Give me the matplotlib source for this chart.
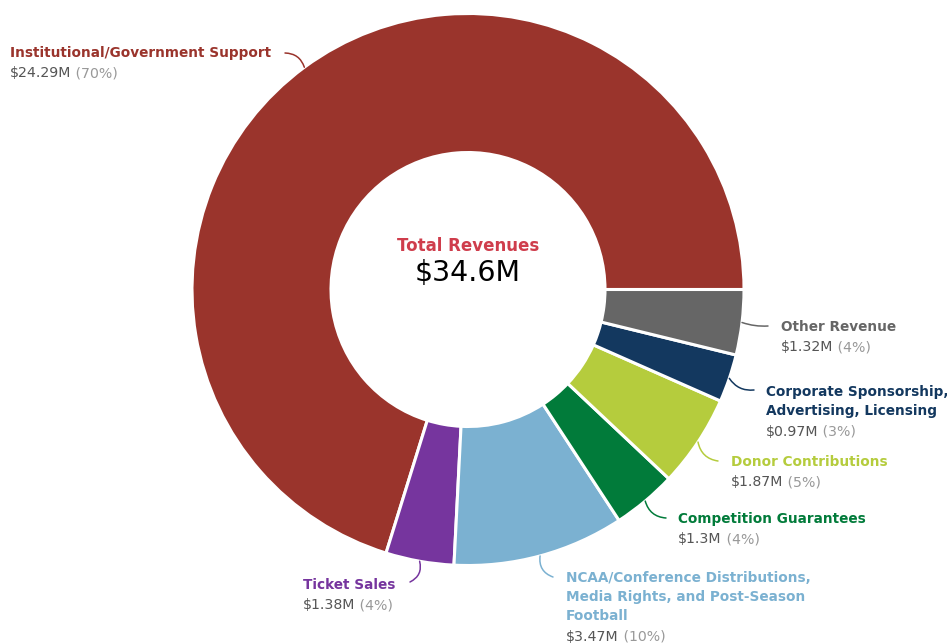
import numpy as np
import matplotlib.pyplot as plt

# revenue sources, in millions of dollars
categories = ["Institutional/Government Support", "Ticket Sales",
              "NCAA/Conference Distributions,\nMedia Rights, and Post-Season\nFootball",
              "Competition Guarantees", "Donor Contributions",
              "Corporate Sponsorship,\nAdvertising, Licensing", "Other Revenue"]
values = [24.29, 1.38, 3.47, 1.3, 1.87, 0.97, 1.32]
value_labels = ["$24.29M", "$1.38M", "$3.47M", "$1.3M", "$1.87M", "$0.97M", "$1.32M"]

colors = ["#9a342c", "#76359e", "#7bb1d1", "#017b3a", "#b5cc3d", "#13385f", "#666666"]

W, H = 947, 644
cx, cy, r_out, r_in = 468, 289.5, 276, 137

# label layout: left x, centre y of first line, leader end point, leader bend (px, y down)
label_pos = [(10, 54, (285, 53), -0.35), (303, 586, (410, 582), 0.4),
             (566, 579, (553, 577), -0.4), (678, 520, (666, 518), -0.35),
             (731, 463, (718, 461), -0.35), (766, 393, (754, 390), -0.3),
             (781, 328, (768, 326), -0.1)]
line_h = 19.3


def fy(y):
    return H - y


fig = plt.figure(figsize=(W / 100, H / 100), dpi=100)
ax = fig.add_axes([0, 0, 1, 1])

wedges, _ = ax.pie(values, colors=colors, startangle=0, counterclock=True,
                   radius=r_out, center=(cx, fy(cy)),
                   wedgeprops=dict(width=r_out - r_in, edgecolor="white", linewidth=2.2))
ax.set_xlim(0, W)
ax.set_ylim(0, H)
ax.set_aspect("auto")
ax.axis("off")

total = sum(values)
ax.text(cx, fy(246), "Total Revenues", color="#cf3d4c", fontsize=12, fontweight="bold",
        ha="center", va="center")
ax.text(cx, fy(273), "$%.1fM" % total, color="black", fontsize=20.5,
        ha="center", va="center")

for w, name, val, col, (lx, ly, end, bend) in zip(wedges, categories, value_labels,
                                                  colors, label_pos):
    mid = np.deg2rad((w.theta1 + w.theta2) / 2)
    anchor = (cx + r_out * np.cos(mid), fy(cy) + r_out * np.sin(mid))
    ex, ey = end
    ax.annotate("", xy=anchor, xytext=(ex, fy(ey)),
                arrowprops=dict(arrowstyle="-", color=col, lw=1.1,
                                connectionstyle="arc3,rad=%.2f" % bend,
                                shrinkA=0, shrinkB=0))
    n = name.count("\n") + 1
    ax.text(lx, fy(ly - line_h / 2 + 2), name, color=col, fontsize=9.8, fontweight="bold",
            ha="left", va="top", linespacing=1.42)
    t = ax.text(lx, fy(ly + n * line_h), val, color="#555555", fontsize=10.2,
                ha="left", va="center")
    pct = round((w.theta2 - w.theta1) / 3.6)
    ax.annotate(" (%d%%)" % pct, xy=(1, 0), xycoords=t, color="#999999",
                fontsize=10.2, ha="left", va="bottom")

fig.savefig("out.png", dpi=100)
